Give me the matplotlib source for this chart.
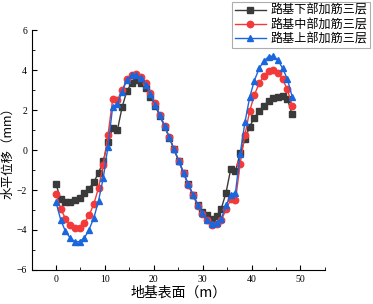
import numpy as np
import matplotlib.pyplot as plt

plt.rcParams['font.family'] = ['Liberation Serif', 'Noto Sans CJK SC', 'DejaVu Sans']

# 位置 (m)
x = [0, 0.97, 1.93, 2.9, 3.86, 4.83, 5.8, 6.76, 7.73, 8.69, 9.66, 10.63, 11.59,
     12.56, 13.52, 14.49, 15.46, 16.42, 17.39, 18.35, 19.32, 20.29, 21.25, 22.22,
     23.18, 24.15, 25.12, 26.08, 27.05, 28.01, 28.98, 29.95, 30.91, 31.88, 32.84,
     33.81, 34.78, 35.74, 36.71, 37.67, 38.64, 39.61, 40.57, 41.54, 42.5, 43.47,
     44.44, 45.4, 46.37, 47.33, 48.3]

# 水平位移 (mm)
lower = [-1.72, -2.47, -2.62, -2.6, -2.52, -2.38, -2.17, -1.93, -1.6, -1.15, -0.55,
         0.42, 1.1, 1.0, 2.15, 2.95, 3.35, 3.48, 3.33, 3.08, 2.67, 2.2, 1.7, 1.17,
         0.62, 0.03, -0.55, -1.13, -1.72, -2.23, -2.73, -3.1, -3.27, -3.43, -3.3,
         -2.93, -2.13, -0.95, -1.07, -0.15, 0.53, 1.17, 1.62, 1.95, 2.2, 2.47, 2.62,
         2.67, 2.72, 2.55, 1.78]
middle = [-2.18, -2.95, -3.43, -3.73, -3.9, -3.9, -3.65, -3.27, -2.7, -1.9, -0.73,
          0.75, 2.55, 2.5, 3.0, 3.53, 3.77, 3.8, 3.63, 3.33, 2.83, 2.33, 1.75, 1.2,
          0.63, 0.03, -0.57, -1.15, -1.75, -2.27, -2.78, -3.2, -3.52, -3.73, -3.68,
          -3.52, -2.97, -2.47, -2.52, -0.68, 0.75, 1.95, 2.75, 3.33, 3.7, 3.95, 4.0,
          3.87, 3.53, 3.03, 2.22]
upper = [-2.62, -3.5, -4.07, -4.4, -4.58, -4.58, -4.4, -3.98, -3.4, -2.55, -1.4,
         0.17, 2.17, 2.3, 2.92, 3.5, 3.75, 3.75, 3.58, 3.25, 2.78, 2.27, 1.73, 1.2,
         0.63, 0.03, -0.55, -1.13, -1.72, -2.23, -2.73, -3.15, -3.52, -3.68, -3.63,
         -3.43, -2.77, -2.23, -2.13, -0.18, 1.38, 2.63, 3.47, 4.08, 4.45, 4.67, 4.7,
         4.5, 4.08, 3.55, 2.67]

labels = ['路基下部加筋三层', '路基中部加筋三层', '路基上部加筋三层']

fig = plt.figure(figsize=(3.73, 3.04), dpi=100)
ax = fig.add_axes([0.086, 0.112, 0.785, 0.789])

ax.plot(x, lower, marker='s', color='#3a3a3a', lw=1, ms=4.2, label=labels[0])
ax.plot(x, middle, marker='o', color='#f23a3a', lw=1, ms=4.6, label=labels[1])
ax.plot(x, upper, marker='^', color='#1a66dd', lw=1, ms=4.8, label=labels[2])

ax.set_xlim(-4.9, 55)
ax.set_ylim(-6, 6)
ax.set_xticks([0, 10, 20, 30, 40, 50])
ax.set_xticks([5, 15, 25, 35, 45, 55], minor=True)
ax.set_yticks([-6, -4, -2, 0, 2, 4, 6])
ax.set_yticks([-5, -3, -1, 1, 3, 5], minor=True)
ax.tick_params(which='both', direction='in', labelsize=7)
ax.tick_params(which='major', length=3.5)
ax.tick_params(which='minor', length=2)
ax.spines['top'].set_visible(False)
ax.spines['right'].set_visible(False)

ax.set_xlabel('地基表面（m）', fontsize=10, labelpad=1,
              family=['Noto Sans CJK SC', 'DejaVu Sans'])
ax.set_ylabel('水平位移（mm）', fontsize=9, labelpad=2,
              family=['Noto Sans CJK SC', 'DejaVu Sans'])

leg = ax.legend(loc='upper right', bbox_to_anchor=(0.993, 0.995),
                bbox_transform=fig.transFigure, frameon=True,
                fancybox=False, edgecolor='#999999', borderpad=0.2,
                labelspacing=0.1, handlelength=2.6, handletextpad=0.4,
                borderaxespad=0, prop={'family': ['Noto Sans CJK SC'], 'size': 8.7})
leg.get_frame().set_linewidth(0.8)

fig.savefig('out.png', dpi=100)
